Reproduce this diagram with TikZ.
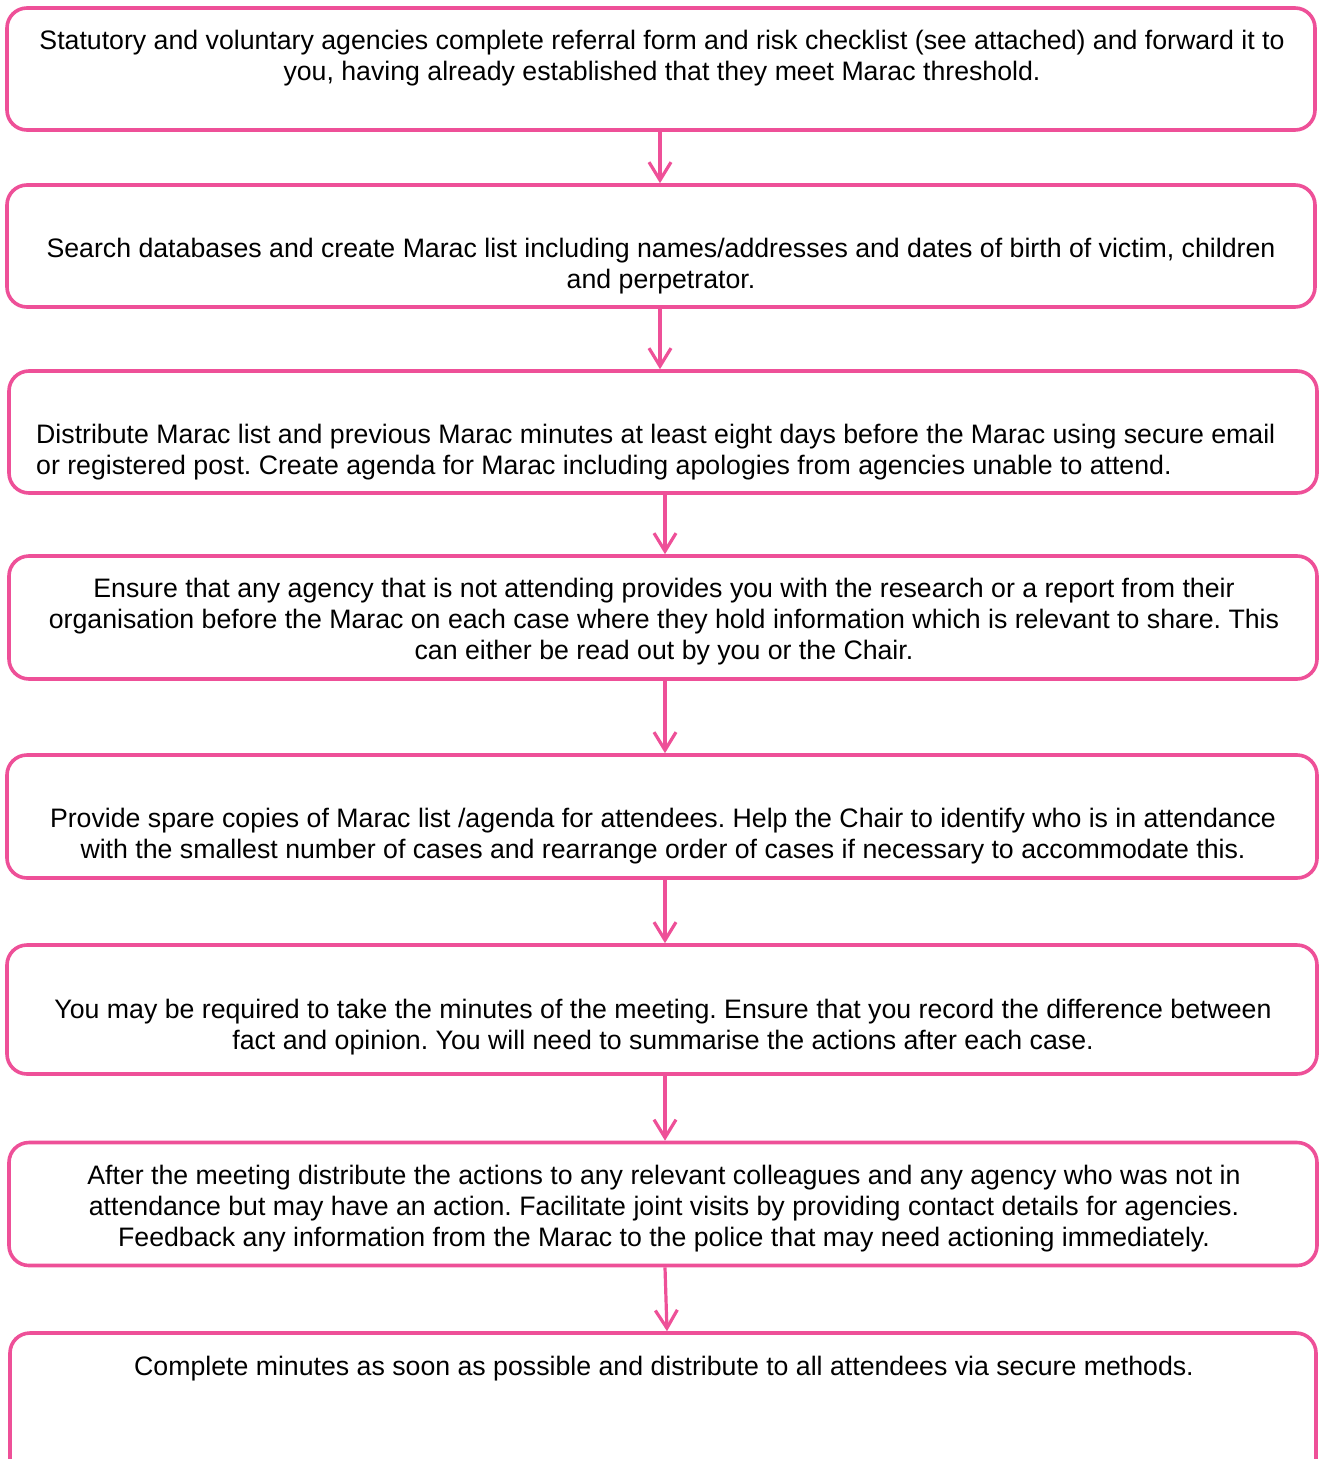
\documentclass[tikz,border=0pt]{standalone}
\usepackage{fontspec}
\setmainfont{Liberation Sans}
\usetikzlibrary{arrows.meta}
\definecolor{pinkline}{RGB}{238,80,152}
\frenchspacing
\begin{document}
\begin{tikzpicture}[x=1pt,y=-1pt,
  box/.style={draw=pinkline, line width=3.6pt, rounded corners=20pt, inner sep=0pt, fill=white},
  txt/.style={align=center, inner sep=0pt, font=\fontsize{26.7}{31}\selectfont\frenchspacing, anchor=base},
  arr/.style={draw=pinkline, line width=3.2pt, -{Straight Barb[length=18pt,width=22pt,line width=3.2pt]}}]
\useasboundingbox (0,0) rectangle (1320,1459);
\clip (0,0) rectangle (1320,1459);
\node[box, minimum width=1308pt, minimum height=122pt] (b1) at (661,69) {};
\node[box, minimum width=1308pt, minimum height=122pt] (b2) at (661,246) {};
\node[box, minimum width=1308pt, minimum height=122pt] (b3) at (663,432) {};
\node[box, minimum width=1308pt, minimum height=123pt] (b4) at (663,617.5) {};
\node[box, minimum width=1310pt, minimum height=123pt] (b5) at (662,816.5) {};
\node[box, minimum width=1310pt, minimum height=129pt] (b6) at (662,1009.5) {};
\node[box, minimum width=1308pt, minimum height=123pt] (b7) at (663,1204) {};
\node[box, minimum width=1306pt, minimum height=150pt] (b8) at (663,1408) {};

\node[txt] (t1) at (662,80) {Statutory and voluntary agencies complete referral form and risk checklist (see attached) and forward it to\\you, having already established that they meet Marac threshold.};
\node[txt] (t2) at (661,288) {Search databases and create Marac list including names/addresses and dates of birth of victim, children\\and perpetrator.};
\node[txt, align=left, anchor=base west] (t3) at (36,474) {Distribute Marac list and previous Marac minutes at least eight days before the Marac using secure email\\or registered post. Create agenda for Marac including apologies from agencies unable to attend.};
\node[txt] (t4) at (664,659) {Ensure that any agency that is not attending provides you with the research or a report from their\\organisation before the Marac on each case where they hold information which is relevant to share. This\\can either be read out by you or the Chair.};
\node[txt] (t5) at (663,858) {Provide spare copies of Marac list /agenda for attendees. Help the Chair to identify who is in attendance\\with the smallest number of cases and rearrange order of cases if necessary to accommodate this.};
\node[txt] (t6) at (663,1049) {You may be required to take the minutes of the meeting. Ensure that you record the difference between\\fact and opinion. You will need to summarise the actions after each case.};
\node[txt] (t7) at (664,1246) {After the meeting distribute the actions to any relevant colleagues and any agency who was not in\\attendance but may have an action. Facilitate joint visits by providing contact details for agencies.\\Feedback any information from the Marac to the police that may need actioning immediately.};
\node[txt] (t8) at (664,1375) {Complete minutes as soon as possible and distribute to all attendees via secure methods.};

\draw[arr] ([xshift=-1pt]b1.south) -- ([xshift=-1pt]b2.north);
\draw[arr] ([xshift=-1pt]b2.south) -- ([xshift=-3pt]b3.north);
\draw[arr] ([xshift=2pt]b3.south) -- ([xshift=2pt]b4.north);
\draw[arr] ([xshift=2pt]b4.south) -- ([xshift=3pt]b5.north);
\draw[arr] ([xshift=3pt]b5.south) -- ([xshift=3pt]b6.north);
\draw[arr] ([xshift=3pt]b6.south) -- ([xshift=2pt]b7.north);
\draw[arr] ([xshift=2pt]b7.south) -- ([xshift=4pt]b8.north);
\end{tikzpicture}
\end{document}
